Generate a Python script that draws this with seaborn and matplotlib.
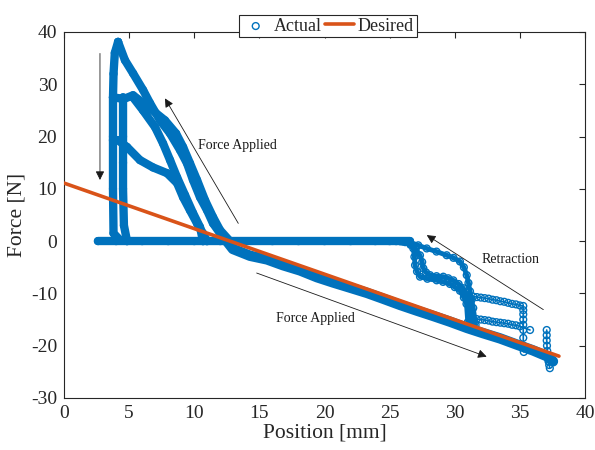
import matplotlib
matplotlib.use("Agg")
import matplotlib.pyplot as plt
import numpy as np
import pandas as pd
import seaborn as sns

# ---------------- data ----------------
# Actual force traces, split into the strokes visible in the picture
flat_x = [2.6, 4.0, 6.0, 8.0, 10.0, 12.0, 14.0, 16.0, 18.0, 20.0, 22.0, 23.9, 25.0, 25.8, 26.56]
flat_y = [0.0, 0.0, 0.0, 0.0, 0.0, 0.0, 0.0, 0.0, 0.0, 0.0, 0.0, 0.0, 0.0, 0.0, 0.0]

vert1_x = [4.3, 3.8, 3.76, 3.76, 3.76, 3.8, 3.9, 4.15]
vert1_y = [0.2, 1.5, 10.0, 20.0, 27.5, 32.0, 36.0, 38.1]

vert2_x = [4.84, 4.6, 4.53, 4.53, 4.53, 4.53]
vert2_y = [0.0, 3.0, 10.0, 15.0, 20.0, 27.5]

outer_x = [4.15, 4.68, 5.30, 6.07, 6.60, 7.37, 8.14, 8.91, 9.44, 9.90, 10.44, 10.98, 11.44, 11.98, 12.51, 12.97]
outer_y = [38.1, 34.6, 32.1, 28.9, 26.4, 23.1, 20.6, 17.4, 14.9, 11.7, 8.4, 5.9, 3.4, 1.5, 0.2, -1.5]

peak2_x = [3.76, 4.6, 5.30, 6.60, 7.75, 8.60, 9.14, 9.67, 10.21, 10.83, 11.44, 11.98, 12.74]
peak2_y = [27.5, 27.2, 27.9, 25.4, 23.1, 20.6, 18.0, 14.9, 11.7, 7.8, 4.6, 2.1, 0.0]

peak3_x = [5.30, 6.07, 6.99, 7.60, 8.14, 8.68, 9.29, 9.90, 10.44, 10.67]
peak3_y = [27.5, 25.0, 21.8, 18.7, 15.5, 12.2, 8.8, 5.4, 2.7, 0.0]

peak4_x = [3.76, 4.15, 4.84, 5.83, 6.83, 7.91, 8.68, 9.14, 9.67, 10.21, 10.67, 10.98]
peak4_y = [19.3, 19.3, 18.0, 15.5, 14.1, 13.0, 11.1, 8.4, 5.9, 3.4, 1.5, 0.0]

lower_x = [12.5, 12.97, 14.28, 15.59, 16.81, 18.12, 19.42, 20.65, 21.96, 23.26, 24.49,
           25.80, 27.10, 28.33, 29.63, 30.94, 32.17, 33.47, 34.78, 36.01, 37.06, 37.54]
lower_y = [0.0, -1.5, -2.8, -3.5, -4.6, -5.6, -6.9, -7.9, -8.9, -9.9, -11.0,
           -12.2, -13.3, -14.3, -15.4, -16.6, -17.6, -18.6, -19.8, -20.9, -22.0, -23.0]

reta_x = [25.8, 26.56, 27.2, 27.85, 28.6, 29.38, 29.9, 30.40, 30.7, 30.92, 31.05, 31.17, 31.3, 31.42, 31.6]
reta_y = [0.0, -0.2, -0.8, -1.4, -2.0, -2.7, -3.2, -3.9, -5.0, -6.5, -8.0, -9.6, -11.2, -12.8, -16.0]

retb_x = [25.5, 26.0, 26.56, 27.0, 27.33, 27.5, 27.59, 27.8, 28.10, 28.6, 29.12, 29.5, 29.89, 30.3, 30.66, 30.9, 31.04, 31.17, 31.3]
retb_y = [0.0, -0.1, -0.4, -1.5, -2.7, -4.0, -5.2, -6.0, -6.5, -6.7, -6.8, -7.1, -7.5, -8.2, -9.0, -10.3, -11.6, -14.3, -16.3]

retc_x = [26.2, 26.6, 26.82, 26.9, 26.95, 27.1, 27.33, 27.9, 28.61, 29.1, 29.63, 30.0, 30.4, 30.7, 30.9, 31.0]
retc_y = [-0.2, -0.7, -1.4, -3.0, -4.6, -5.8, -6.8, -7.2, -7.5, -7.8, -8.2, -8.8, -9.5, -10.8, -12.0, -15.5]

tail1_x = [31.42, 31.7, 32.0, 32.3, 32.6, 32.9, 33.2, 33.5, 33.8, 34.1, 34.4, 34.7, 35.0, 35.26,
           35.26, 35.26, 35.26, 35.26, 35.26, 35.26, 35.26, 35.3]
tail1_y = [-10.6, -10.7, -10.8, -10.9, -11.0, -11.2, -11.3, -11.5, -11.6, -11.8, -12.0, -12.1, -12.3, -12.4,
           -13.2, -14.0, -15.0, -16.0, -17.0, -18.5, -20.0, -21.2]

tail2_x = [31.68, 32.0, 32.3, 32.6, 32.9, 33.2, 33.5, 33.8, 34.1, 34.4, 34.7, 35.0, 35.78]
tail2_y = [-14.9, -15.0, -15.1, -15.2, -15.4, -15.5, -15.6, -15.7, -15.8, -16.0, -16.1, -16.3, -17.0]

tail3_x = [37.06, 37.06, 37.06, 37.08, 37.1, 37.15, 37.2, 37.25, 37.3]
tail3_y = [-17.0, -18.0, -19.0, -20.0, -21.0, -22.0, -23.0, -23.7, -24.3]

# Desired trajectory
desired_x = [0.0, 38.0]
desired_y = [11.1, -22.0]

# Axis ticks
x_ticks = [0, 5, 10, 15, 20, 25, 30, 35, 40]
y_ticks = [-30, -20, -10, 0, 10, 20, 30, 40]

# ---------------- build tables ----------------
dense = {
    "flat": (flat_x, flat_y), "v1": (vert1_x, vert1_y), "v2": (vert2_x, vert2_y),
    "outer": (outer_x, outer_y), "p2": (peak2_x, peak2_y), "p3": (peak3_x, peak3_y),
    "p4": (peak4_x, peak4_y),
}
lower = {"lower": (lower_x, lower_y)}
medium = {"ra": (reta_x, reta_y), "rb": (retb_x, retb_y), "rc": (retc_x, retc_y)}
sparse = {"t1": (tail1_x, tail1_y), "t2": (tail2_x, tail2_y), "t3": (tail3_x, tail3_y)}


def to_df(d):
    rows = []
    for k, (xs, ys) in d.items():
        for i, (a, b) in enumerate(zip(xs, ys)):
            rows.append({"x": a, "y": b, "seg": k, "order": i})
    return pd.DataFrame(rows)


df_dense = to_df(dense)
df_lower = to_df(lower)
df_med = to_df(medium)
df_sparse = to_df(sparse)
df_all = pd.concat([df_dense, df_lower, df_med, df_sparse], ignore_index=True)
df_des = pd.DataFrame({"x": desired_x, "y": desired_y})

# ---------------- plot ----------------
sns.set_style("white")
plt.rcParams["font.family"] = ["Liberation Serif", "DejaVu Serif"]

BLUE = "#0072BD"
RED = "#D95319"
AX = "#262626"

fig = plt.figure(figsize=(5.95, 4.5), dpi=100)
ax = fig.add_axes([0.1076, 0.1156, 0.8756, 0.8133])

line_kw = dict(x="x", y="y", units="seg", estimator=None, sort=False, color=BLUE,
               ax=ax, legend=False)
sns.lineplot(data=df_dense, lw=6.0, solid_capstyle="round", solid_joinstyle="round", **line_kw)
sns.lineplot(data=df_lower, lw=7.5, solid_capstyle="round", solid_joinstyle="round", **line_kw)
sns.lineplot(data=df_med, lw=3.5, solid_capstyle="round", solid_joinstyle="round", **line_kw)
sns.lineplot(data=df_sparse, lw=1.2, **line_kw)
sns.scatterplot(data=df_all, x="x", y="y", marker="o", s=24, facecolors="none",
                edgecolor=BLUE, linewidth=1.0, ax=ax, label="Actual", zorder=3)
sns.lineplot(data=df_des, x="x", y="y", color=RED, lw=2.6, ax=ax, label="Desired",
             sort=False, estimator=None, zorder=4)

ax.set_xlim(0, 40)
ax.set_ylim(-30, 40)
ax.set_xticks(x_ticks)
ax.set_yticks(y_ticks)
ax.set_xticklabels([str(t) for t in x_ticks])
ax.set_yticklabels([str(t) for t in y_ticks])
ax.tick_params(direction="in", length=4, width=0.8, color=AX, labelsize=14,
               labelcolor=AX, top=True, right=True, pad=5)
for s in ax.spines.values():
    s.set_color(AX)
    s.set_linewidth(0.8)
    s.set_visible(True)

ax.set_xlabel("Position [mm]", fontsize=15.5, color=AX, labelpad=1)
ax.set_ylabel("Force [N]", fontsize=15.5, color=AX, labelpad=3)

# annotations
arrow_kw = dict(arrowstyle="-|>", color="#1a1a1a", lw=0.6, mutation_scale=13,
                shrinkA=0, shrinkB=0)
ax.annotate("", xy=(2.76, 11.7), xytext=(2.76, 35.9), arrowprops=arrow_kw)
ax.annotate("", xy=(7.75, 27.3), xytext=(13.38, 3.4), arrowprops=arrow_kw)
ax.annotate("", xy=(32.45, -22.1), xytext=(14.79, -6.1), arrowprops=arrow_kw)
ax.annotate("", xy=(27.85, 1.15), xytext=(36.8, -13.1), arrowprops=arrow_kw)

ax.text(10.29, 18.2, "Force Applied", fontsize=10, va="center", ha="left", color="#1a1a1a")
ax.text(16.28, -14.8, "Force Applied", fontsize=10, va="center", ha="left", color="#1a1a1a")
ax.text(32.07, -3.5, "Retraction", fontsize=10, va="center", ha="left", color="#1a1a1a")

leg = ax.legend(loc="lower center", bbox_to_anchor=(0.506, 0.985), ncol=2, fontsize=13,
                frameon=True, fancybox=False, edgecolor=AX, framealpha=1,
                borderaxespad=0, handlelength=1.6, handletextpad=0.2,
                columnspacing=0.2, borderpad=0.15)
leg.get_frame().set_linewidth(0.8)

fig.savefig("out.png", dpi=100)
